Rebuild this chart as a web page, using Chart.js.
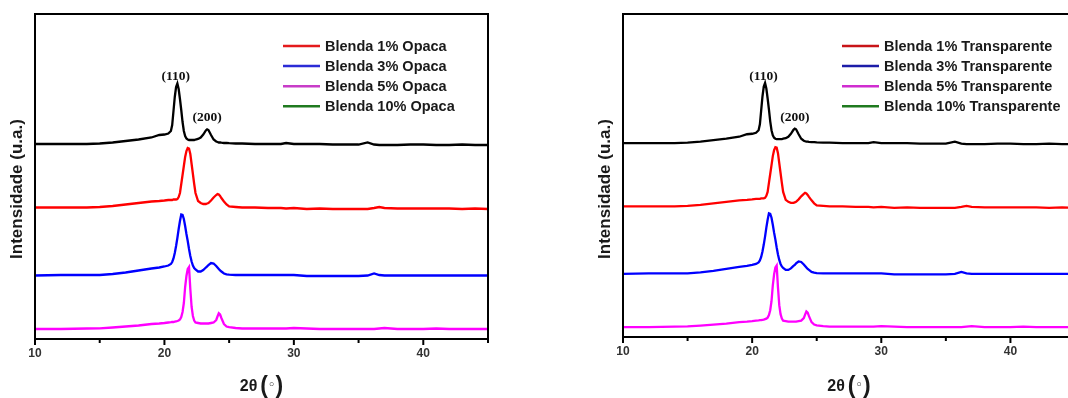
<!DOCTYPE html>
<html>
<head>
<meta charset="utf-8">
<script src="https://cdn.jsdelivr.net/npm/chart.js@4.4.1/dist/chart.umd.min.js"></script>
<style>
  html, body { margin: 0; padding: 0; background: #fff; overflow: hidden; }
  #wrap { position: relative; width: 1068px; height: 398px; overflow: hidden; background: #fff; }
  canvas { position: absolute; top: 0; }
  #opaca { left: 0; }
  #transp { left: 534px; }
</style>
</head>
<body>
<div id="wrap">
  <canvas id="opaca" width="534" height="398"></canvas>
  <canvas id="transp" width="561" height="398"></canvas>
</div>
<script>
// 2θ positions (degrees) at which the diffractograms are sampled
const twoTheta = [
  10, 12, 14, 15, 16, 17, 18, 19, 19.6, 20.0,
  20.3, 20.5, 20.6, 20.7, 20.8, 20.9, 21.0, 21.1, 21.2, 21.3,
  21.4, 21.5, 21.6, 21.7, 21.8, 21.9, 22.0, 22.1, 22.2, 22.3,
  22.4, 22.6, 22.8, 23.0, 23.2, 23.3, 23.4, 23.6, 23.8, 24.0,
  24.1, 24.2, 24.3, 24.4, 24.6, 24.8, 25.0, 25.5, 26, 27,
  28, 29, 29.4, 30, 31, 32, 33, 34, 35, 35.7,
  36.2, 36.6, 37, 38, 39, 40, 41, 42, 43, 44,
  45
];

// Offset intensities (a.u.), top trace to bottom trace
const traceBlack = [
  195, 195, 195, 195.5, 196.5, 198, 199.5, 201.5, 204, 204.5,
  205.5, 208, 214, 228, 242, 252, 255.5, 250, 240, 229,
  217, 208, 203, 200.5, 199.5, 199, 199, 199, 199, 199,
  199.5, 200, 201.5, 204.5, 208.5, 209.7, 209, 204, 199.5, 197.5,
  197, 196.5, 196.5, 196.3, 196, 196, 195.8, 195.5, 195.5, 195,
  195, 195, 196, 195, 195, 195, 194.5, 194.5, 194.5, 196.5,
  194.5, 194, 194, 194, 194.5, 194.5, 194, 194, 194.5, 194,
  194
];
const traceRed = [
  131.5, 131.5, 131.5, 132, 133, 134.5, 136, 137.5, 138, 138.5,
  139, 139, 139, 139.5, 139.5, 139.5, 140, 142, 146, 155,
  164, 173, 182, 188, 191, 190.5, 185, 175, 165, 155,
  146, 138, 136, 135, 135, 135.5, 136, 138.5, 141.5, 144,
  145, 144.5, 143, 141, 137.5, 134.5, 132.5, 132, 131.5, 131.5,
  131, 131, 130.5, 131, 130, 130.5, 130, 130, 130, 130,
  131, 132, 131, 130.5, 130.5, 130.5, 130.5, 130.5, 130, 130.5,
  130
];
const traceBlue = [
  63.5, 64, 64, 64, 65, 66.5, 68.5, 70.5, 71.5, 72.5,
  73.5, 75, 77, 80.5, 86, 93, 101, 110, 118, 124.5,
  124, 120, 113, 105, 98, 90, 83, 77.5, 73.5, 71,
  69.5, 67.5, 67.5, 69, 71.5, 72.5, 74, 76, 75.5, 73,
  71.5, 70, 68.5, 67.5, 65.5, 64.7, 64.3, 64, 64, 64,
  64, 64, 64, 64, 63, 63, 63, 63, 63, 63.5,
  65.5, 64, 63.5, 63.5, 63.5, 63.5, 63.5, 63.5, 63.5, 63.5,
  63.5
];
const traceMagenta = [
  10, 10, 10.5, 10.7, 11.5, 12.5, 13.5, 15, 15.5, 16,
  16.5, 16.8, 17, 17, 17.3, 17.5, 18, 18.5, 19.5, 22,
  27, 36, 52, 63, 70, 72, 50, 32, 23, 18.5,
  16.5, 16, 15.5, 15.5, 15.5, 15.5, 15.5, 16, 16.5, 19,
  22.5, 25.7, 24.5, 21, 15, 12.5, 11.8, 11, 10.5, 10.5,
  10.5, 10.5, 10.5, 11, 10.5, 10, 10, 10, 10, 10,
  10, 10.5, 11, 10, 10, 10, 10.5, 10, 10, 10,
  10
];

const traceColors = ['#000000', '#ff0000', '#0000ff', '#ff00ff'];

// Legend entries
const legendOpaca = ['Blenda 1% Opaca', 'Blenda 3% Opaca', 'Blenda 5% Opaca', 'Blenda 10% Opaca'];
const legendTransp = ['Blenda 1% Transparente', 'Blenda 3% Transparente', 'Blenda 5% Transparente', 'Blenda 10% Transparente'];
const legendColorsOpaca = ['#e41a1c', '#2b2bd6', '#c83cc8', '#1f7a1f'];
const legendColorsTransp = ['#c81418', '#1c1ca8', '#d02cd0', '#1f7a1f'];

// Reflection labels placed over the top trace
const hklLabels = ['(110)', '(200)'];
const hklAngles = [21.0, 23.3];

// Axis
const xMin = 10, xMax = 45, xStep = 5;
const yMin = 0, yMax = 325;

const sans = '"Liberation Sans", Arial, sans-serif';
const serif = '"Liberation Serif", "Times New Roman", serif';

function peakNear(trace, angle) {
  let best = -Infinity;
  twoTheta.forEach((t, i) => { if (Math.abs(t - angle) <= 0.3) best = Math.max(best, trace[i]); });
  return best;
}

const panelDecor = {
  id: 'panelDecor',
  afterDatasetsDraw(chart, args, o) {
    const { ctx, scales: { x, y } } = chart;
    ctx.save();
    ctx.fillStyle = '#111';
    ctx.font = 'bold 13.5px ' + serif;
    ctx.textAlign = 'center';
    ctx.textBaseline = 'middle';
    hklLabels.forEach((lab, i) => {
      const px = x.getPixelForValue(hklAngles[i]);
      const py = y.getPixelForValue(peakNear(traceBlack, hklAngles[i]));
      ctx.fillText(lab, px - (i === 0 ? 1.5 : 0), py - o.hklLift[i]);
    });
    ctx.restore();
  },
  afterDraw(chart, args, o) {
    const { ctx, chartArea: a, scales: { x } } = chart;
    ctx.save();
    // frame
    ctx.strokeStyle = '#000';
    ctx.lineWidth = 2;
    ctx.strokeRect(a.left, a.top, a.right - a.left, a.bottom - a.top);
    // tick marks
    for (let v = xMin; v <= xMax; v += xStep) {
      const px = x.getPixelForValue(v);
      const len = v % 10 === 0 ? 6 : 4;
      ctx.beginPath();
      ctx.moveTo(px, a.bottom);
      ctx.lineTo(px, a.bottom + len);
      ctx.stroke();
    }
    // legend
    ctx.font = 'bold 14.5px ' + sans;
    ctx.textAlign = 'left';
    ctx.textBaseline = 'middle';
    o.legend.forEach((lab, i) => {
      const ry = o.legendY + i * 20.1;
      ctx.strokeStyle = o.legendColors[i];
      ctx.lineWidth = 2.5;
      ctx.beginPath();
      ctx.moveTo(o.legendX, ry);
      ctx.lineTo(o.legendX + 37, ry);
      ctx.stroke();
      ctx.fillStyle = '#1a1a1a';
      ctx.fillText(lab, o.legendX + 42, ry + 0.5);
    });
    // y title
    ctx.save();
    ctx.translate(o.yTitleX, 189);
    ctx.rotate(-Math.PI / 2);
    ctx.textAlign = 'center';
    ctx.textBaseline = 'middle';
    ctx.font = 'bold 17px ' + sans;
    ctx.fillStyle = '#1a1a1a';
    ctx.fillText('Intensidade (u.a.)', 0, 0);
    ctx.restore();
    // x title: 2θ (◦)
    const parts = [
      { t: '2θ', f: 'bold 16px ' + sans },
      { t: ' ', f: 'bold 10px ' + sans },
      { t: '(', f: 'bold 23px ' + sans },
      { t: '◦', f: '13px "DejaVu Sans", sans-serif' },
      { t: ')', f: 'bold 23px ' + sans }
    ];
    let w = 0;
    parts.forEach(p => { ctx.font = p.f; p.w = ctx.measureText(p.t).width; w += p.w; });
    let cx = (a.left + a.right) / 2 - w / 2;
    ctx.textAlign = 'left';
    ctx.textBaseline = 'alphabetic';
    ctx.fillStyle = '#1a1a1a';
    parts.forEach(p => {
      ctx.font = p.f;
      const base = p.t === '◦' ? 389 : (p.t === '(' || p.t === ')') ? 393 : 391;
      ctx.fillText(p.t, cx, base);
      cx += p.w;
    });
    ctx.restore();
  }
};

function makePanel(id, padLeft, padRight, padBottom, decor) {
  const traces = [traceBlack, traceRed, traceBlue, traceMagenta];
  return new Chart(document.getElementById(id), {
    type: 'line',
    data: {
      datasets: traces.map((tr, k) => ({
        data: twoTheta.map((t, i) => ({ x: t, y: tr[i] })),
        borderColor: traceColors[k],
        borderWidth: 2.3,
        pointRadius: 0,
        tension: 0,
        fill: false,
        order: 3 - k
      }))
    },
    options: {
      responsive: false,
      animation: false,
      devicePixelRatio: 1,
      layout: { padding: { top: 14, left: padLeft, right: padRight, bottom: 0 } },
      plugins: {
        legend: { display: false },
        tooltip: { enabled: false },
        panelDecor: decor
      },
      scales: {
        x: {
          type: 'linear',
          min: xMin,
          max: xMax,
          afterFit: s => { s.height = padBottom; },
          afterBuildTicks: s => {
            s.ticks = [];
            for (let v = xMin; v <= xMax; v += xStep) s.ticks.push({ value: v });
          },
          ticks: {
            autoSkip: false,
            maxRotation: 0,
            padding: 7,
            color: '#333',
            font: { family: sans, size: 12, weight: 'bold' },
            callback: v => (v % 10 === 0 ? String(v) : '')
          },
          grid: { display: false, drawTicks: false },
          border: { display: false }
        },
        y: {
          display: false,
          min: yMin,
          max: yMax
        }
      }
    },
    plugins: [panelDecor]
  });
}

makePanel('opaca', 35, 46, 59, {
  legend: legendOpaca, legendColors: legendColorsOpaca,
  legendX: 283, legendY: 46, yTitleX: 17.5, hklLift: [7, 12]
});
makePanel('transp', 89, 20, 61, {
  legend: legendTransp, legendColors: legendColorsTransp,
  legendX: 308, legendY: 46, yTitleX: 71.5, hklLift: [7, 11]
});
</script>
</body>
</html>
